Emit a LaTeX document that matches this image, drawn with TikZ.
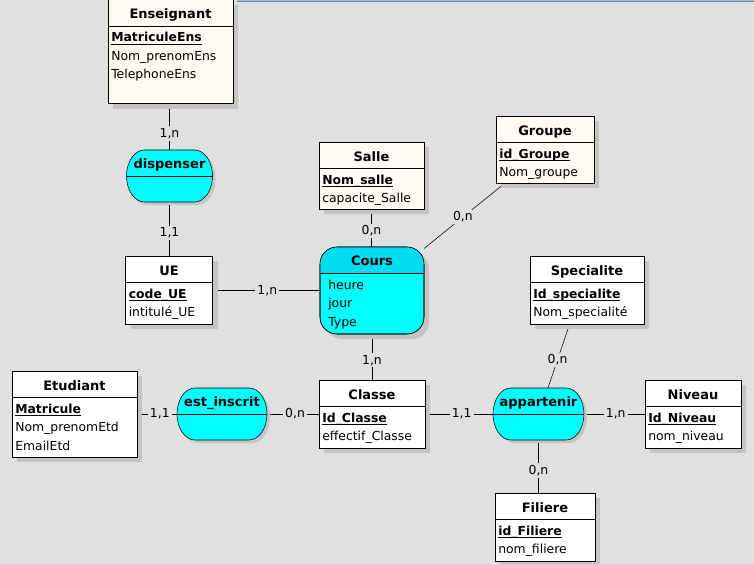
\documentclass[tikz,border=0pt]{standalone}
\usepackage{fontspec}
\setmainfont{DejaVu Sans}
\usetikzlibrary{shadows}
\definecolor{fond}{HTML}{E0E0E0}
\definecolor{ombre}{HTML}{C4C4C4}
\definecolor{creme}{HTML}{FFFBF0}
\definecolor{assoccyan}{HTML}{00FFFF}
\definecolor{entetecours}{HTML}{00DCF0}
\definecolor{bordbleu}{HTML}{9DB9E0}
\definecolor{bordgris}{HTML}{7A8596}
\pgfdeclarelayer{arriere}
\pgfdeclarelayer{liens}
\pgfsetlayers{arriere,liens,main}
\newsavebox{\clebox}
\newcommand{\cle}[1]{\sbox{\clebox}{\textbf{#1}}\usebox{\clebox}\llap{\rule[-2.3pt]{\wd\clebox}{0.75pt}}}
\newcommand{\entite}[4][]{%
  \node[entite, #1] (#2) at #3 {};
  \node[titre] (#2-titre) at ([yshift=-14.25pt]#2.north) {#2};
  \draw ([yshift=-19.9pt]#2.north west) -- ([yshift=-19.9pt]#2.north east);
  \node[attributs] (#2-attr) at ([xshift=2.25pt, yshift=-24.4pt]#2.north west) {#4};
}
\newcommand{\association}[4][]{%
  \node[assoc, #1] (#2) at #3 {};
  \draw[assocforme] ([xshift=13.5pt]#2.north west) -- ([xshift=-13.5pt]#2.north east)
    arc[start angle=90, end angle=-90, x radius=13.5pt, y radius=19.5pt]
    -- ([xshift=13.5pt]#2.south west)
    arc[start angle=270, end angle=90, x radius=13.5pt, y radius=19.5pt] -- cycle;
  \draw (#2.west) -- (#2.east);
  \node[titre] (#2-titre) at ([yshift=-13.9pt]#2.north) {#4};
}

\begin{document}
\begin{tikzpicture}[x=0.75pt, y=-0.75pt, line width=0.75pt,
    taille/.style 2 args={minimum width=#1*0.75pt, minimum height=#2*0.75pt},
    entite/.style={draw, fill=white, inner sep=0pt, outer sep=0pt, drop shadow={shadow xshift=3.75pt, shadow yshift=-3.75pt, fill=ombre, opacity=1}},
    assoc/.style={inner sep=0pt, outer sep=0pt},
    assocforme/.style={draw, fill=assoccyan, drop shadow={shadow xshift=2.25pt, shadow yshift=-2.25pt, fill=ombre, opacity=1}},
    titre/.style={font=\fontsize{9.75}{11}\selectfont\bfseries, anchor=base, inner sep=0pt},
    attributs/.style={font=\fontsize{9.3}{13.9}\selectfont, align=left, anchor=north west, inner sep=0pt},
    cardin/.style={font=\fontsize{9.3}{11}\selectfont, fill=fond, inner sep=1.5pt}]
  \useasboundingbox (0,0) rectangle (754,564);
  \clip (0,0) rectangle (754,564);
  \begin{pgfonlayer}{arriere}
    \fill[fond] (0,0) rectangle (754,564);
  \end{pgfonlayer}
  \fill[bordbleu] (237,0) rectangle (754,1);
  \fill[bordgris] (237,1) rectangle (754,2);

  % entites
  \entite[taille={125}{104}, fill=creme]{Enseignant}{(170.5,51.5)}{\cle{MatriculeEns}\\Nom\_prenomEns\\TelephoneEns}
  \entite[taille={87}{68}]{UE}{(169,290)}{\cle{code\_UE}\\intitulé\_UE}
  \entite[taille={105}{67}, fill=creme]{Salle}{(371.5,175.5)}{\cle{Nom\_salle}\\capacite\_Salle}
  \entite[taille={98}{67}, fill=creme]{Groupe}{(545,149.5)}{\cle{id\_Groupe}\\Nom\_groupe}
  \entite[taille={125}{86}]{Etudiant}{(74.5,414)}{\cle{Matricule}\\Nom\_prenomEtd\\EmailEtd}
  \entite[taille={106}{68}]{Classe}{(372,414)}{\cle{Id\_Classe}\\effectif\_Classe}
  \entite[taille={114}{68}]{Specialite}{(587,290)}{\cle{Id\_specialite}\\Nom\_specialité}
  \entite[taille={96}{68}]{Niveau}{(693,414)}{\cle{Id\_Niveau}\\nom\_niveau}
  \entite[taille={100}{68}]{Filiere}{(545,527)}{\cle{id\_Filiere}\\nom\_filiere}

  % associations
  \association[taille={86}{52}]{dispenser}{(169.5,176)}{dispenser}
  \association[taille={90}{52}]{inscrit}{(222,414)}{est\_inscrit}
  \association[taille={91}{52}]{appartenir}{(538.5,414)}{appartenir}

  \node[entite, fill=assoccyan, taille={104}{87}, rounded corners=12.75pt, drop shadow={shadow xshift=2.25pt, shadow yshift=-2.25pt, fill=ombre, opacity=1}] (Cours) at (372,290.5) {};
  \begin{scope}
    \clip[rounded corners=12.75pt] (Cours.north west) rectangle (Cours.south east);
    \fill[entetecours] (Cours.north west) rectangle ([yshift=-19.5pt]Cours.north east);
  \end{scope}
  \draw[rounded corners=12.75pt] (Cours.north west) rectangle (Cours.south east);
  \draw ([yshift=-19.5pt]Cours.north west) -- ([yshift=-19.5pt]Cours.north east);
  \node[titre] (Cours-titre) at ([yshift=-13.9pt]Cours.north) {Cours};
  \node[attributs] (Cours-attr) at ([xshift=6pt, yshift=-24.4pt]Cours.north west) {heure\\jour\\Type};

  % pattes
  \begin{pgfonlayer}{liens}
    \draw (dispenser.north) -- (dispenser.north |- Enseignant.south) node[cardin, pos=.36] (k-ens) {1,n};
    \draw (dispenser.south) -- (dispenser.south |- UE.north) node[cardin, pos=.57] (k-ue) {1,1};
    \draw (Cours.west) -- (Cours.west -| UE.east) node[cardin, pos=.49] (k-ue-cours) {1,n};
    \draw (Salle.south) -- (Salle.south |- Cours.north) node[cardin, pos=.58] (k-salle) {0,n};
    \draw (Groupe.220) -- (Cours) node[cardin, pos=.52] (k-groupe) {0,n};
    \draw (Cours.south) -- (Classe.north) node[cardin, pos=.57] (k-cours-classe) {1,n};
    \draw (Etudiant.east) -- (inscrit.west) node[cardin, pos=.57] (k-etu) {1,1};
    \draw (inscrit.east) -- (Classe.west) node[cardin, pos=.54] (k-inscrit) {0,n};
    \draw (Classe.east) -- (appartenir.west) node[cardin, pos=.54] (k-classe) {1,1};
    \draw (appartenir.east) -- (Niveau.west) node[cardin, pos=.52] (k-niveau) {1,n};
    \draw (Specialite.243) -- (appartenir.70) node[cardin, pos=.56] (k-spec) {0,n};
    \draw (appartenir.south) -- (appartenir.south |- Filiere.north) node[cardin, pos=.58] (k-filiere) {0,n};
  \end{pgfonlayer}
\end{tikzpicture}
\end{document}
